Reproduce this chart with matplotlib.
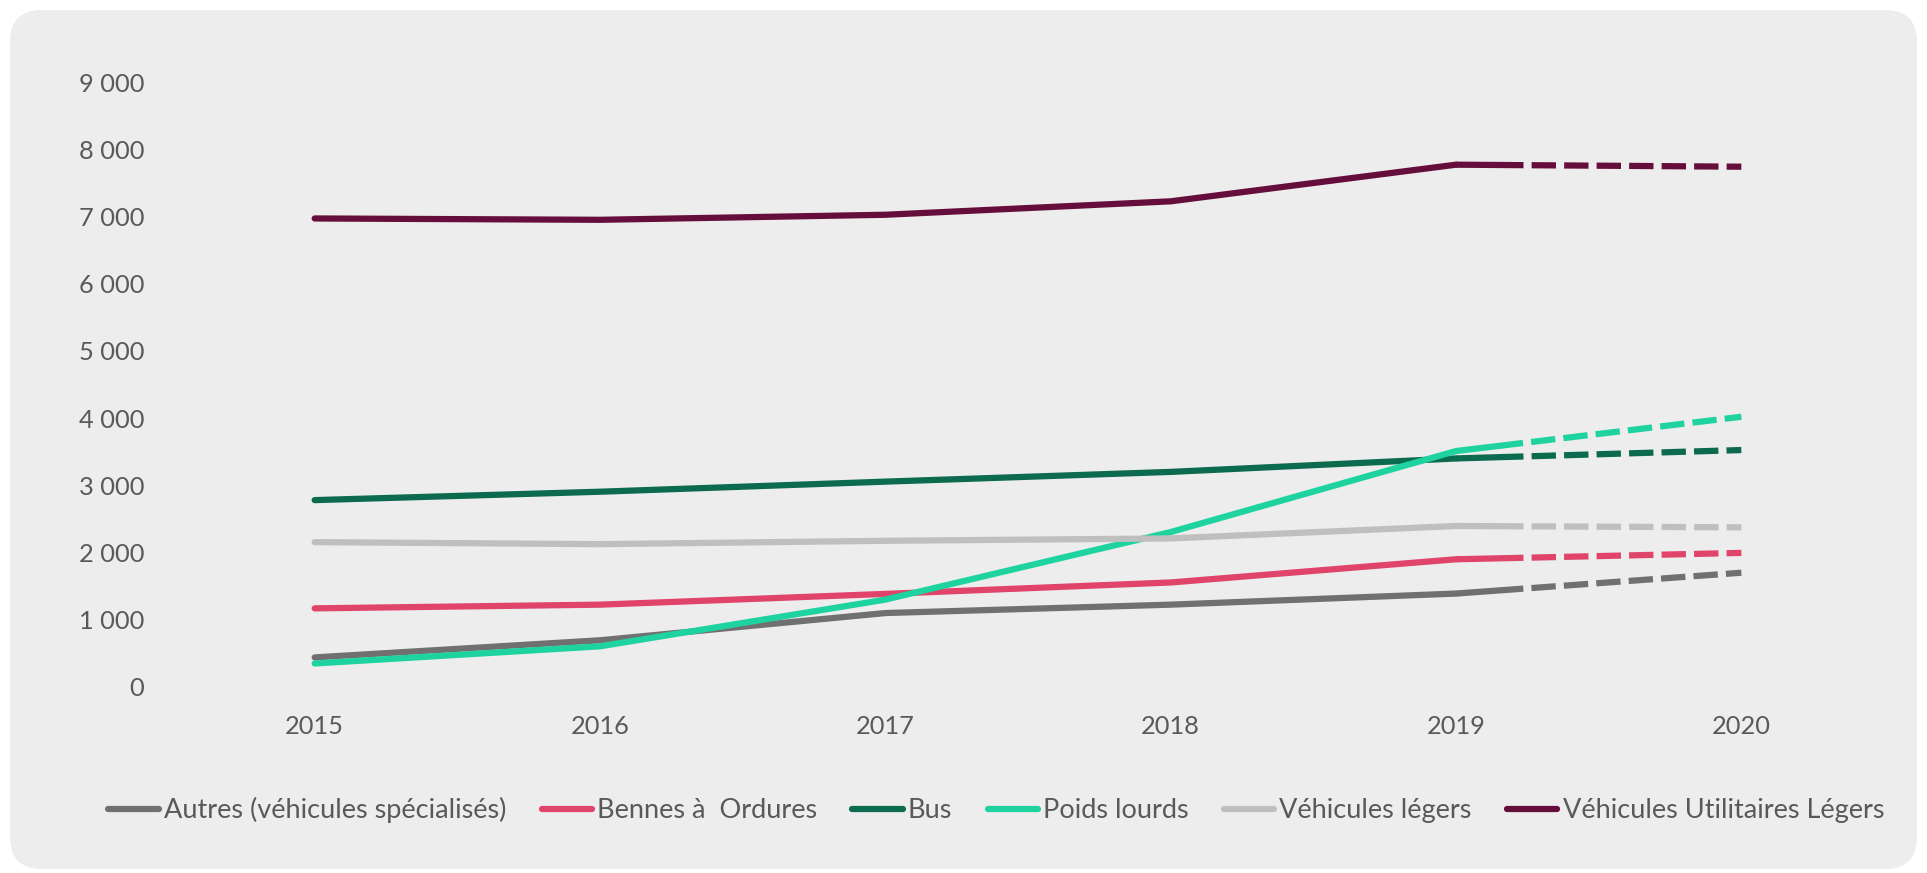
import matplotlib.pyplot as plt
from matplotlib.patches import FancyBboxPatch
from matplotlib.lines import Line2D

# values
years = [2015, 2016, 2017, 2018, 2019, 2020]
autres = [440, 695, 1100, 1225, 1390, 1700]
bennes = [1170, 1225, 1385, 1555, 1900, 1995]
bus = [2780, 2905, 3055, 3200, 3400, 3525]
poids_lourds = [350, 605, 1300, 2305, 3510, 4020]
vl = [2155, 2125, 2175, 2210, 2395, 2375]
vul = [6970, 6950, 7025, 7225, 7770, 7740]

names = ['Autres (véhicules spécialisés)', 'Bennes à  Ordures', 'Bus',
         'Poids lourds', 'Véhicules légers', 'Véhicules Utilitaires Légers']
series = [autres, bennes, bus, poids_lourds, vl, vul]
colors = ['#707070', '#E0446A', '#0C6A4F', '#1ED39F', '#BFBFBF', '#660E3B']

plt.rcParams['font.family'] = ['Lato', 'DejaVu Sans']
txt = '#595959'
fs = 18.3

W, H = 1927, 873
fig = plt.figure(figsize=(W / 100, H / 100), dpi=100)
fig.patch.set_facecolor('white')

# rounded grey panel behind everything
bg = fig.add_axes([0, 0, 1, 1], zorder=-1)
bg.set_xlim(0, W)
bg.set_ylim(0, H)
bg.axis('off')
bg.add_patch(FancyBboxPatch((10, 4), W - 20, H - 14,
                            boxstyle='round,pad=0,rounding_size=32',
                            fc='#EDEDED', ec='none'))

ax = fig.add_axes([172 / W, 1 - 687 / H, (1884 - 172) / W, (687 - 82) / H])
ax.patch.set_alpha(0)
lw = 4.5
dash = [10.8, 1.3] + [3.9, 1.3] * 8
handles = []
for name, vals, c in zip(names, series, colors):
    ax.plot(years[:5], vals[:5], color=c, lw=lw, solid_capstyle='round',
            solid_joinstyle='round')
    ax.plot(years[4:], vals[4:], color=c, lw=lw, dashes=dash,
            dash_capstyle='butt')
    handles.append(Line2D([], [], color=c, lw=lw, solid_capstyle='round', label=name))

ax.set_xlim(2014.5, 2020.5)
ax.set_ylim(0, 9000)
ax.set_xticks(years)
ax.set_xticklabels([str(y) for y in years])
ax.set_yticks(range(0, 9001, 1000))
ax.set_yticklabels(['0'] + [f'{v // 1000} 000' for v in range(1000, 9001, 1000)])
ax.tick_params(length=0, labelsize=fs, colors=txt)
ax.tick_params(axis='y', pad=20)
ax.tick_params(axis='x', pad=20)
for s in ax.spines.values():
    s.set_visible(False)

fig.legend(handles=handles, loc='center', bbox_to_anchor=(0.517, 1 - 810 / H),
           ncol=6, frameon=False, fontsize=19.5, labelcolor=txt,
           handlelength=1.85, handletextpad=0.2, columnspacing=1.3)

fig.savefig('out.png', dpi=100)
